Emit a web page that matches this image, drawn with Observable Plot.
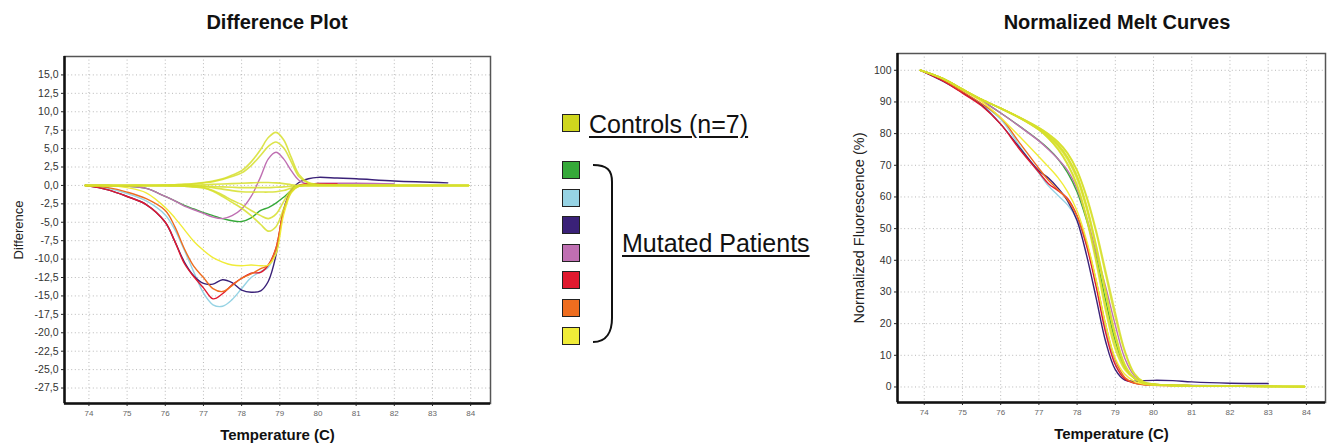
<!DOCTYPE html>
<html>
<head>
<meta charset="utf-8">
<script src="https://cdn.jsdelivr.net/npm/d3@7"></script>
<script src="https://cdn.jsdelivr.net/npm/@observablehq/plot@0.6"></script>
<style>
  body { margin: 0; background: #fff; font-family: "Liberation Sans", Arial, sans-serif; }
  #page { position: relative; width: 1327px; height: 446px; overflow: hidden; background: #fff; }
  .panel { position: absolute; top: 0; }
  .title { position: absolute; top: 11px; font-weight: bold; font-size: 20px; color: #111; transform: translateX(-50%); white-space: nowrap; }
  .legend-text { position: absolute; font-size: 25px; color: #111; text-decoration: underline; text-decoration-thickness: 2px; text-underline-offset: 3px; white-space: nowrap; line-height: 1; }
  .swatch { position: absolute; left: 562px; width: 16px; height: 16px; border: 1.5px solid #222; }
  g[aria-label="x-axis label"] text { font-weight: bold; font-size: 15px; fill: #111; }
  g[aria-label="y-axis label"] text { font-size: 13px; fill: #222; }
  #melt-panel g[aria-label="y-axis label"] text { font-size: 14.5px; }
</style>
</head>
<body>
<div id="page"></div>
<script>
// ---- shared temperature ticks ----
const tempTicks = [74, 75, 76, 77, 78, 79, 80, 81, 82, 83, 84];

// ---- Difference plot ----
const diffTicks = [15, 12.5, 10, 7.5, 5, 2.5, 0, -2.5, -5, -7.5, -10, -12.5, -15, -17.5, -20, -22.5, -25, -27.5];
const diffXDomain = [73.36, 84.52];
const diffYDomain = [-29.6, 17.5];
const diffTemps = [73.9, 74.5, 75.0, 75.5, 76.0, 76.25, 76.5, 76.75, 77.0, 77.25, 77.5, 77.75, 78.0, 78.25, 78.5, 78.7, 78.9, 79.1, 79.3, 79.5, 79.75, 80.0, 80.5, 81.0, 82.0, 83.4, 83.95];

const diffGreen     = [0, 0, -0.1, -0.4, -1.5, -2.1, -2.7, -3.2, -3.7, -4.1, -4.5, -4.8, -4.9, -4.4, -3.4, -3.0, -2.4, -1.6, -0.7, -0.1, 0.1, 0.1, 0.1, null, null, null, null];
const diffLightBlue = [0, -0.4, -1.1, -2.1, -4.0, -6.0, -8.8, -11.8, -14.6, -16.2, -16.4, -15.5, -14.0, -12.5, -11.7, -11.1, -8.9, -3.6, -0.8, 0.0, 0.1, 0.15, 0.2, 0.2, 0.2, null, null];
const diffPurple    = [0, -0.6, -1.5, -2.6, -5.0, -7.6, -10.4, -12.3, -13.3, -13.4, -12.8, -13.2, -14.2, -14.5, -14.3, -13.0, -9.5, -3.3, -0.6, 0.4, 0.9, 1.1, 1.0, 0.9, 0.6, 0.35, null];
const diffPink      = [0, 0, -0.1, -0.4, -1.5, -2.1, -2.8, -3.3, -3.8, -4.3, -4.5, -4.1, -3.2, -1.5, 1.2, 3.6, 4.5, 3.6, 2.0, 0.7, 0.15, 0.3, 0.3, 0.3, 0.2, null, null];
const diffRed       = [0, -0.6, -1.5, -2.6, -5.0, -7.6, -10.6, -12.4, -13.9, -15.4, -14.7, -13.5, -12.6, -11.9, -11.8, -10.8, -8.5, -3.5, -0.8, 0.0, 0.2, 0.2, 0.2, null, null, null, null];
const diffOrange    = [0, -0.3, -0.9, -1.8, -3.4, -5.6, -8.6, -11.0, -12.5, -14.0, -14.4, -13.6, -12.6, -12.0, -11.3, -10.8, -8.6, -3.4, -0.8, 0.0, 0.1, 0.1, 0.1, null, null, null, null];
const diffYellow    = [0, 0, -0.3, -1.0, -3.0, -4.4, -6.0, -7.6, -8.8, -9.8, -10.4, -10.8, -10.9, -10.8, -10.9, -10.8, -9.3, -4.0, -1.0, -0.1, 0, 0, 0, 0, 0, 0, 0];

const diffControl1 = [0, 0, 0, 0, 0.05, 0.1, 0.15, 0.25, 0.4, 0.6, 0.9, 1.4, 2.0, 3.2, 4.9, 6.5, 7.2, 6.2, 3.8, 1.5, 0.4, 0.15, 0.05, 0, 0, 0, 0];
const diffControl2 = [0, 0, 0, 0, 0.05, 0.1, 0.15, 0.2, 0.35, 0.5, 0.8, 1.2, 1.7, 2.7, 4.1, 5.3, 5.9, 5.1, 3.2, 1.2, 0.3, 0.1, 0.05, 0, 0, 0, 0];
const diffControl3 = [0, 0, 0, 0, 0, 0, 0, -0.05, -0.15, -0.3, -0.5, -0.7, -0.85, -0.9, -0.9, -0.9, -0.85, -0.7, -0.35, -0.1, 0, 0, 0, 0, 0, 0, 0];
const diffControl4 = [0, 0, 0, 0, -0.05, -0.08, -0.1, -0.2, -0.3, -0.7, -1.3, -2.0, -2.6, -3.4, -4.1, -4.5, -3.9, -2.2, -0.6, -0.05, 0, 0, 0, 0, 0, 0, 0];
const diffControl5 = [0, 0, 0, 0, -0.05, -0.08, -0.1, -0.2, -0.35, -0.8, -1.5, -2.3, -3.1, -4.1, -5.3, -6.2, -5.6, -3.2, -0.9, -0.1, 0, 0, 0, 0, 0, 0, 0];
const diffControl6 = [0, 0, 0, 0, 0, 0, 0, 0.05, 0.1, 0.15, 0.2, 0.25, 0.3, 0.35, 0.4, 0.4, 0.35, 0.25, 0.1, 0, 0, 0, 0, 0, 0, 0, 0];
const diffControl7 = [0, 0, 0, 0, 0, 0, 0, -0.05, -0.1, -0.15, -0.2, -0.25, -0.3, -0.3, -0.3, -0.3, -0.25, -0.2, -0.1, 0, 0, 0, 0, 0, 0, 0, 0];

// ---- Normalized melt curves ----
const meltTicks = [0, 10, 20, 30, 40, 50, 60, 70, 80, 90, 100];
const meltXDomain = [73.3, 84.5];
const meltYDomain = [-4.9, 105.3];
const meltTemps = [73.9, 74.5, 75.0, 75.5, 76.0, 76.5, 77.0, 77.25, 77.5, 77.75, 78.0, 78.25, 78.5, 78.75, 79.0, 79.25, 79.5, 79.75, 80.0, 80.5, 81.0, 82.0, 83.0, 83.95];

const meltGreen     = [100, 97.3, 93.9, 90.4, 86.5, 82.3, 77.8, 75.2, 72.0, 67.7, 61.6, 52.6, 41.1, 27.1, 14.5, 6.1, 2.7, 1.2, 0.8, 0.5, null, null, null, null];
const meltLightBlue = [100, 96.8, 93.0, 89.3, 84.5, 76.0, 67.5, 63.5, 60.5, 57.5, 53.0, 44.8, 32.5, 18.0, 7.5, 2.8, 1.2, 0.8, 0.6, 0.5, 0.5, 0.4, null, null];
const meltPurple    = [100, 96.5, 93.0, 89.0, 83.0, 75.5, 68.3, 66.0, 62.8, 58.8, 52.5, 41.5, 28.0, 14.2, 5.5, 2.2, 1.8, 2.0, 2.1, 2.0, 1.6, 1.2, 1.1, null];
const meltPink      = [100, 97.3, 93.9, 90.4, 86.5, 82.2, 77.7, 75.0, 72.0, 68.4, 62.5, 53.5, 42.5, 31.5, 19.5, 9.0, 3.5, 1.4, 0.9, 0.6, 0.5, 0.3, null, null];
const meltRed       = [100, 96.6, 92.8, 88.8, 83.0, 75.0, 67.8, 64.2, 62.0, 59.5, 54.0, 44.5, 31.5, 17.0, 7.0, 2.5, 1.2, 0.8, 0.7, 0.6, null, null, null, null];
const meltOrange    = [100, 97.0, 93.3, 89.5, 85.0, 77.0, 69.0, 65.3, 62.3, 59.2, 54.0, 45.5, 33.5, 19.5, 8.5, 3.0, 1.2, 0.7, 0.5, 0.4, null, null, null, null];
const meltYellow    = [100, 97.3, 93.8, 90.2, 85.0, 79.0, 72.7, 69.5, 66.1, 61.7, 55.6, 46.2, 33.6, 19.5, 9.0, 4.0, 1.8, 0.9, 0.6, 0.4, 0.3, 0.2, 0.2, 0.1];

const meltControl1 = [100, 97.3, 94.0, 90.8, 88.0, 85.1, 81.9, 79.9, 77.4, 73.9, 68.5, 60.2, 49.4, 36.5, 23.5, 11.5, 4.3, 1.6, 0.9, 0.5, 0.4, 0.3, 0.2, 0.1];
const meltControl2 = [100, 97.3, 94.0, 90.8, 88.0, 85.1, 81.85, 79.8, 77.3, 73.7, 68.2, 59.7, 48.6, 35.3, 22.1, 10.9, 4.0, 1.5, 0.9, 0.5, 0.4, 0.3, 0.2, 0.1];
const meltControl3 = [100, 97.3, 94.0, 90.8, 88.0, 85.0, 81.35, 79.0, 76.0, 71.8, 65.65, 56.1, 43.6, 29.1, 15.7, 6.5, 2.7, 1.2, 0.8, 0.5, 0.4, 0.3, 0.2, 0.1];
const meltControl4 = [100, 97.3, 94.0, 90.8, 87.95, 84.9, 81.2, 78.6, 75.2, 70.5, 63.9, 53.6, 40.4, 25.5, 13.2, 5.8, 2.75, 1.2, 0.8, 0.5, 0.4, 0.3, 0.2, 0.1];
const meltControl5 = [100, 97.3, 94.0, 90.8, 87.95, 84.9, 81.15, 78.5, 75.0, 70.2, 63.4, 52.9, 39.2, 23.9, 11.9, 5.4, 2.7, 1.2, 0.8, 0.5, 0.4, 0.3, 0.2, 0.1];
const meltControl6 = [100, 97.3, 94.0, 90.8, 88.0, 85.0, 81.5, 79.35, 76.6, 72.6, 66.7, 57.3, 44.8, 30.3, 16.8, 7.1, 2.8, 1.2, 0.8, 0.5, 0.4, 0.3, 0.2, 0.1];
const meltControl7 = [100, 97.3, 94.0, 90.8, 88.0, 85.0, 81.5, 79.3, 76.4, 72.4, 66.4, 56.8, 44.3, 29.8, 16.3, 6.9, 2.8, 1.2, 0.8, 0.5, 0.4, 0.3, 0.2, 0.1];

// ---- groups and colours ----
const patientNames  = ["Patient 1", "Patient 2", "Patient 3", "Patient 4", "Patient 5", "Patient 6", "Patient 7"];
const patientColors = ["#36a93a", "#96d3e4", "#3a2178", "#bf6fb2", "#e0192f", "#ee6d1f", "#f0ec38"];
const controlNames  = ["Control 1", "Control 2", "Control 3", "Control 4", "Control 5", "Control 6", "Control 7"];
const controlColor  = "#cfd61e";
const controlLine   = "#d6df2c";
const controlLabel  = "Controls (n=7)";
const patientLabel  = "Mutated Patients";

const diffPatients = [diffGreen, diffLightBlue, diffPurple, diffPink, diffRed, diffOrange, diffYellow];
const diffControls = [diffControl1, diffControl2, diffControl3, diffControl4, diffControl5, diffControl6, diffControl7];
const meltPatients = [meltGreen, meltLightBlue, meltPurple, meltPink, meltRed, meltOrange, meltYellow];
const meltControls = [meltControl1, meltControl2, meltControl3, meltControl4, meltControl5, meltControl6, meltControl7];

function toRows(temps, names, series) {
  return names.flatMap((name, i) => temps.map((t, j) => ({series: name, t, v: series[i][j]})));
}

const fontFamily = "'Liberation Sans', Arial, sans-serif";
const gridStyle = {stroke: "#b8b8b8", strokeOpacity: 1, strokeWidth: 1, strokeDasharray: "1,2.6"};
const commaFormat = (d) => d.toFixed(1).replace(".", ",");

function meltPanel({temps, patients, controls, xDomain, yDomain, yTicks, yFormat, yLabel, yLabelOffset, width, margins, yFont}) {
  return Plot.plot({
    width, height: 446,
    marginLeft: margins[0], marginTop: margins[1], marginRight: margins[2], marginBottom: margins[3],
    style: {fontFamily, background: "transparent", color: "#222"},
    x: {domain: xDomain},
    y: {domain: yDomain},
    color: {domain: patientNames, range: patientColors},
    marks: [
      Plot.gridX(tempTicks, gridStyle),
      Plot.gridY(yTicks, gridStyle),
      Plot.line(toRows(temps, patientNames, patients), {x: "t", y: "v", z: "series", stroke: "series", strokeWidth: 1.4, curve: "catmull-rom"}),
      Plot.line(toRows(temps, controlNames, controls), {x: "t", y: "v", z: "series", stroke: controlLine, strokeWidth: 1.6, strokeOpacity: 0.85, curve: "catmull-rom"}),
      Plot.frame({stroke: "#555", strokeWidth: 1.5}),
      Plot.ruleX([xDomain[0]], {stroke: "#111", strokeWidth: 2.5}),
      Plot.ruleY([yDomain[0]], {stroke: "#111", strokeWidth: 2.5}),
      Plot.axisY(yTicks, {tickFormat: yFormat, tickSize: 3, tickPadding: 3, fontSize: yFont, fill: "#333",
        label: yLabel, labelAnchor: "center", labelOffset: yLabelOffset, labelArrow: "none"}),
      Plot.axisX(tempTicks, {tickSize: 3, tickPadding: 4, fontSize: 8, fill: "#666",
        label: "Temperature (C)", labelAnchor: "center", labelOffset: 36, labelArrow: "none"})
    ]
  });
}

const page = document.getElementById("page");

const diffSvg = meltPanel({
  temps: diffTemps, patients: diffPatients, controls: diffControls,
  xDomain: diffXDomain, yDomain: diffYDomain, yTicks: diffTicks, yFormat: commaFormat,
  yLabel: "Difference", yLabelOffset: 51, width: 500, margins: [64, 56, 10, 43], yFont: 10.5
});
diffSvg.classList.add("panel");
diffSvg.id = "diff-panel";
diffSvg.style.left = "0px";
page.appendChild(diffSvg);

const meltSvg = meltPanel({
  temps: meltTemps, patients: meltPatients, controls: meltControls,
  xDomain: meltXDomain, yDomain: meltYDomain, yTicks: meltTicks, yFormat: (d) => String(d),
  yLabel: "Normalized Fluorescence (%)", yLabelOffset: 44, width: 487, margins: [57, 53, 2, 44], yFont: 10.5
});
meltSvg.classList.add("panel");
meltSvg.id = "melt-panel";
meltSvg.style.left = "840px";
page.appendChild(meltSvg);

// titles
function addTitle(text, cx) {
  const d = document.createElement("div");
  d.className = "title";
  d.textContent = text;
  d.style.left = cx + "px";
  page.appendChild(d);
}
addTitle("Difference Plot", 277);
addTitle("Normalized Melt Curves", 1117);

// legend between the panels
const ctrlSwatch = document.createElement("div");
ctrlSwatch.className = "swatch";
ctrlSwatch.style.top = "114px";
ctrlSwatch.style.background = controlColor;
page.appendChild(ctrlSwatch);

const ctrlText = document.createElement("div");
ctrlText.className = "legend-text";
ctrlText.textContent = controlLabel;
ctrlText.style.left = "589px";
ctrlText.style.top = "112px";
page.appendChild(ctrlText);

patientColors.forEach((c, i) => {
  const s = document.createElement("div");
  s.className = "swatch";
  s.style.top = (161 + i * 27.6) + "px";
  s.style.background = c;
  page.appendChild(s);
});

const bracket = document.createElementNS("http://www.w3.org/2000/svg", "svg");
bracket.setAttribute("width", "40");
bracket.setAttribute("height", "190");
bracket.style.position = "absolute";
bracket.style.left = "585px";
bracket.style.top = "158px";
const bp = document.createElementNS("http://www.w3.org/2000/svg", "path");
bp.setAttribute("d", "M8,7 C22,7 27,12 27,24 L27,160 C27,173 22,184 8,184");
bp.setAttribute("fill", "none");
bp.setAttribute("stroke", "#111");
bp.setAttribute("stroke-width", "2");
bracket.appendChild(bp);
page.appendChild(bracket);

const patText = document.createElement("div");
patText.className = "legend-text";
patText.textContent = patientLabel;
patText.style.left = "622px";
patText.style.top = "231px";
page.appendChild(patText);
</script>
</body>
</html>
